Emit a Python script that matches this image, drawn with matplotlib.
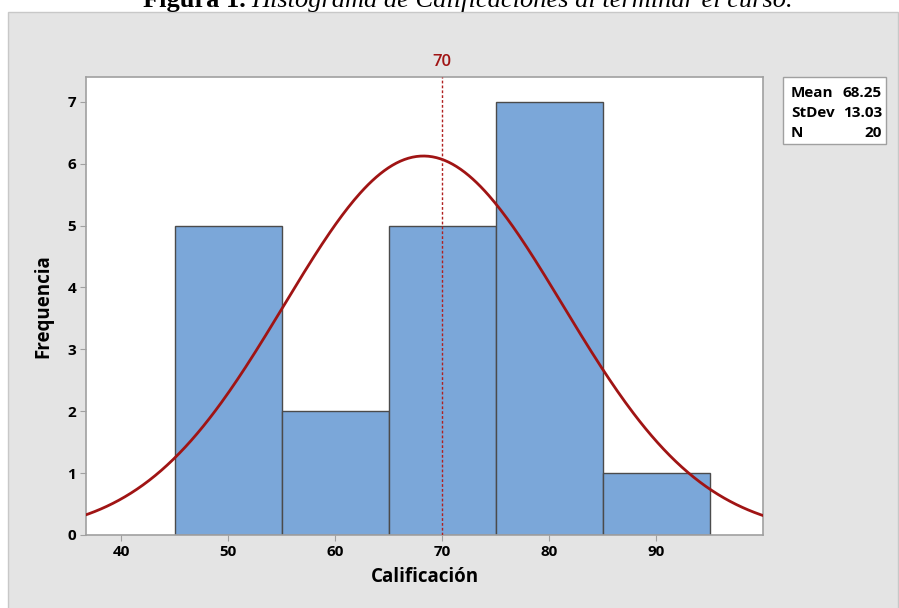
import numpy as np
import matplotlib
matplotlib.use('Agg')
import matplotlib.pyplot as plt
from matplotlib.patches import Rectangle

# datos del histograma
bin_left = [45, 55, 65, 75, 85]
counts = [5, 2, 5, 7, 1]
bin_width = 10
mean_val = 68.25
std_val = 13.03
n_val = 20
ref_line = 70
xticks = [40, 50, 60, 70, 80, 90]
yticks = [0, 1, 2, 3, 4, 5, 6, 7]

plt.rcParams['font.family'] = ['Open Sans', 'DejaVu Sans']

W, H = 899, 608
fig = plt.figure(figsize=(W / 100, H / 100), dpi=100)
fig.patch.set_facecolor('white')

# panel gris de fondo
fig.patches.append(Rectangle((8 / W, -0.01), (898 - 8) / W, (608 - 12) / H + 0.01,
                             transform=fig.transFigure, facecolor='#e4e4e4',
                             edgecolor='#c8c8c8', linewidth=1, zorder=-2))

# titulo (cortado arriba, como en el original)
tb = fig.text(143 / W, 1 - 6.5 / H, 'Figura 1.', family='Liberation Serif',
              weight='bold', fontsize=19, va='baseline', ha='left')
fig.canvas.draw()
bb = tb.get_window_extent()
fig.text(bb.x1 / W + 6 / W, 1 - 6.5 / H,
         'Histograma de Calificaciones al terminar el curso.',
         family='Liberation Serif', style='italic', fontsize=19,
         va='baseline', ha='left')

ax = fig.add_axes([86 / W, 1 - 535 / H, (763 - 86) / W, (535 - 77) / H])
ax.set_zorder(2)
ax.set_facecolor('white')

ax.bar(bin_left, counts, width=bin_width, align='edge', color='#7ba7d9',
       edgecolor='#4b4b4b', linewidth=1, zorder=2)

xx = np.linspace(30, 105, 400)
yy = n_val * bin_width / (std_val * np.sqrt(2 * np.pi)) * np.exp(-0.5 * ((xx - mean_val) / std_val) ** 2)
ax.plot(xx, yy, color='#a01414', linewidth=2, zorder=3)

ax.axvline(ref_line, color='#b02020', linestyle=(0, (2, 1.5)), linewidth=1, zorder=4)
ax.text(ref_line, 7.4 + 0.12, '70', color='#a01414', ha='center', va='bottom',
        fontsize=12, weight='semibold')

ax.set_xlim(36.7, 100)
ax.set_ylim(0, 7.4)
ax.set_xticks(xticks)
ax.set_yticks(yticks)
for s in ax.spines.values():
    s.set_color('#a0a0a0')
    s.set_linewidth(1.2)
ax.tick_params(direction='out', length=4, color='#a0a0a0', labelsize=11, pad=3)
for lab in ax.get_xticklabels() + ax.get_yticklabels():
    lab.set_fontweight('bold')

ax.set_xlabel('Calificación', fontsize=13.5, weight='bold', labelpad=6)
ax.set_ylabel('Frequencia', fontsize=13.5, weight='bold', labelpad=10)

# cuadro de estadisticas
fig.patches.append(Rectangle((783 / W, 1 - 144 / H), (886 - 783) / W, (144 - 77) / H,
                             transform=fig.transFigure, facecolor='white',
                             edgecolor='#a0a0a0', linewidth=1, zorder=-1))
rows = [('Mean', '%.2f' % mean_val), ('StDev', '%.2f' % std_val), ('N', '%d' % n_val)]
for i, (k, v) in enumerate(rows):
    yy_ = 1 - (93 + i * 20) / H
    fig.text(791 / W, yy_, k, fontsize=11, weight='bold', va='center', ha='left')
    fig.text(882 / W, yy_, v, fontsize=11, weight='bold', va='center', ha='right')

fig.savefig('out.png', dpi=100)
